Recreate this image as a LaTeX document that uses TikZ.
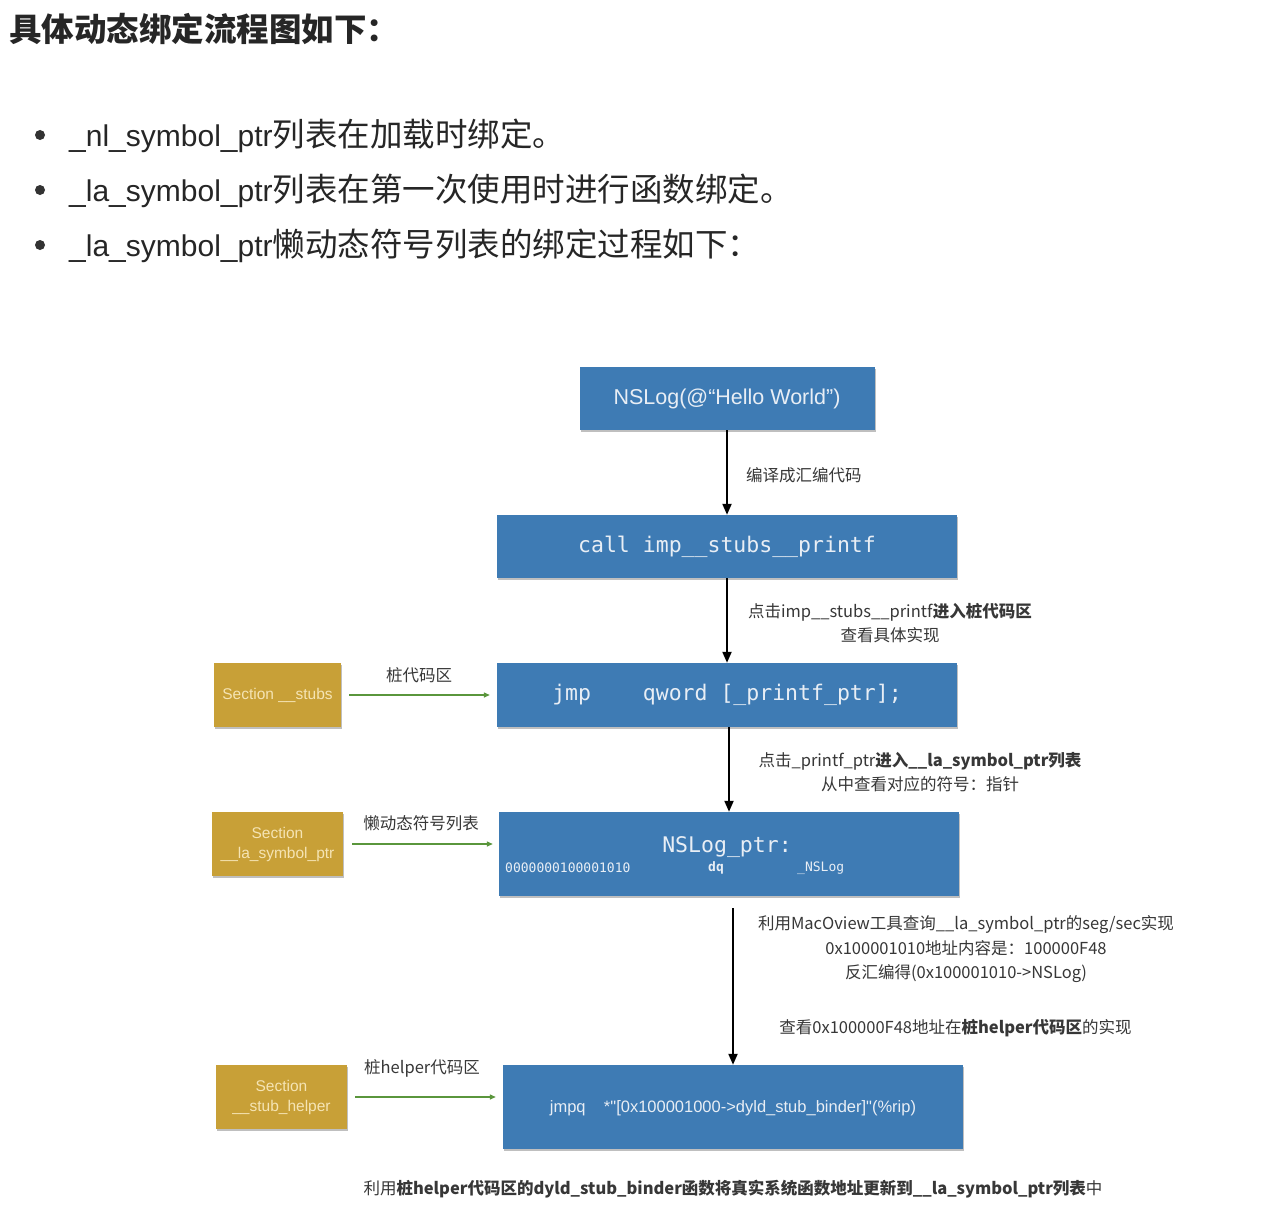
\documentclass[tikz,border=0pt]{standalone}
\usepackage{fontspec}
\setmainfont{Noto Sans CJK SC}
\newfontfamily\codefont{DejaVu Sans Mono}
\newfontfamily\latinfont{Liberation Sans}
\newcommand\lt[1]{{\latinfont\fontsize{30}{36}\selectfont #1}}
\usetikzlibrary{arrows.meta,shadows}
\definecolor{boxblue}{RGB}{62,123,180}
\definecolor{boxgold}{RGB}{200,160,55}
\definecolor{txtblue}{RGB}{232,238,245}
\definecolor{txtgold}{RGB}{245,228,180}
\definecolor{lbl}{RGB}{55,55,55}
\definecolor{arrgreen}{RGB}{90,150,60}
\tikzset{
  shd/.style={drop shadow={shadow xshift=1pt,shadow yshift=-2pt,opacity=0.25,fill=black}},
  bluebox/.style={fill=boxblue,text=txtblue,inner sep=0pt,shd},
  goldbox/.style={fill=boxgold,text=txtgold,inner sep=0pt,align=center,shd,
     font=\latinfont\fontsize{15.5}{20}\selectfont},
  lab/.style={text=lbl,inner sep=0pt,align=center,font=\fontsize{16.5}{24.5}\selectfont},
  bul/.style={anchor=west,inner sep=0pt,text=black!85,font=\fontsize{32.5}{36}\selectfont},
  blk/.style={draw=black,line width=2pt,-{Triangle[length=11pt,width=9pt]}},
  grn/.style={draw=arrgreen,line width=1.3pt,-{Triangle[length=6pt,width=5pt]}},
}
\begin{document}
\begin{tikzpicture}[x=1pt,y=-1pt]
\useasboundingbox[fill=white] (0,0) rectangle (1284,1220);
% heading and bullets
\node[anchor=west,inner sep=0pt,text=black!85,font=\fontsize{32.5}{36}\bfseries] (title) at (9,29) {具体动态绑定流程图如下：};
\fill[black!80] (40,135) circle (5pt);
\fill[black!80] (40,190) circle (5pt);
\fill[black!80] (40,245) circle (5pt);
\node[bul] (b1) at (69,136) {\lt{\_nl\_symbol\_ptr}列表在加载时绑定。};
\node[bul] (b2) at (69,191) {\lt{\_la\_symbol\_ptr}列表在第一次使用时进行函数绑定。};
\node[bul] (b3) at (69,246) {\lt{\_la\_symbol\_ptr}懒动态符号列表的绑定过程如下：};
% blue boxes
\node[bluebox,minimum width=295pt,minimum height=63pt,font=\latinfont\fontsize{21.5}{24}\selectfont] (nslog) at (727,398.5) {NSLog(@“Hello World”)};
\node[bluebox,minimum width=460pt,minimum height=63pt,font=\codefont\fontsize{21.5}{24}\selectfont] (call) at (727,546.5) {call imp\_\_stubs\_\_printf};
\node[bluebox,minimum width=460pt,minimum height=64pt,font=\codefont\fontsize{21.5}{24}\selectfont] (jmp) at (727,695) {jmp\ \ \ \ qword [\_printf\_ptr];};
\node[bluebox,minimum width=460pt,minimum height=84pt] (ptr) at (729,854) {};
\node[text=txtblue,inner sep=0pt,font=\codefont\fontsize{21.5}{24}\selectfont] (ptrname) at (727,847) {NSLog\_ptr:};
\node[text=txtblue,inner sep=0pt,anchor=west,font=\codefont\fontsize{13}{16}\selectfont] (ptraddr) at (505,868) {0000000100001010};
\node[text=txtblue,inner sep=0pt,font=\codefont\fontsize{13}{16}\bfseries] (ptrdq) at (716,868) {dq};
\node[text=txtblue,inner sep=0pt,anchor=west,font=\codefont\fontsize{13}{16}\selectfont] (ptrsym) at (797,868) {\_NSLog};
\node[bluebox,minimum width=460pt,minimum height=84pt] (jmpq) at (733,1107) {};
\node[text=txtblue,inner sep=0pt,font=\latinfont\fontsize{16.5}{20}\selectfont] (jmpqtxt) at (733,1108) {jmpq\ \ \ \ *"[0x100001000->dyld\_stub\_binder]"(\%rip)};
% gold boxes
\node[goldbox,minimum width=127pt,minimum height=64pt] (secA) at (277.5,695) {Section \_\_stubs};
\node[goldbox,minimum width=131pt,minimum height=64pt] (secB) at (277.5,844) {Section\\\_\_la\_symbol\_ptr};
\node[goldbox,minimum width=131pt,minimum height=64pt] (secC) at (281.5,1097) {Section\\\_\_stub\_helper};
% black arrows
\draw[blk] (nslog.south) -- (nslog.south |- call.north);
\draw[blk] (call.south) -- (jmp.north);
\draw[blk] (ptr.north |- jmp.south) -- (ptr.north);
\draw[blk] ([yshift=-12pt]jmpq.north |- ptr.south) -- (jmpq.north);
% green arrows
\draw[grn,shorten <=8pt,shorten >=7pt] (secA.east) -- (jmp.west);
\draw[grn,shorten <=9pt,shorten >=6pt] (secB.east) -- (secB.east -| ptr.west);
\draw[grn,shorten <=8pt,shorten >=7pt] (secC.east) -- (secC.east -| jmpq.west);
% labels
\node[lab,anchor=west] (l1) at (746,475) {编译成汇编代码};
\node[lab] (l2) at (890,623) {点击imp\_\_stubs\_\_printf\textbf{进入桩代码区}\\查看具体实现};
\node[lab] (l3) at (920,772) {点击\_printf\_ptr\textbf{进入\_\_la\_symbol\_ptr列表}\\从中查看对应的符号：指针};
\node[lab] (l4) at (966,949.5) {利用MacOview工具查询\_\_la\_symbol\_ptr的seg/sec实现\\0x100001010地址内容是：100000F48\\反汇编得(0x100001010->NSLog)};
\node[lab] (l5) at (955.5,1028) {查看0x100000F48地址在\textbf{桩helper代码区}的实现};
\node[lab] (l6) at (733,1189) {利用\textbf{桩helper代码区的dyld\_stub\_binder函数将真实系统函数地址更新到\_\_la\_symbol\_ptr列表}中};
\node[lab] (gA) at (419,675) {桩代码区};
\node[lab] (gB) at (421,823) {懒动态符号列表};
\node[lab] (gC) at (422,1068) {桩helper代码区};
\end{tikzpicture}
\end{document}
